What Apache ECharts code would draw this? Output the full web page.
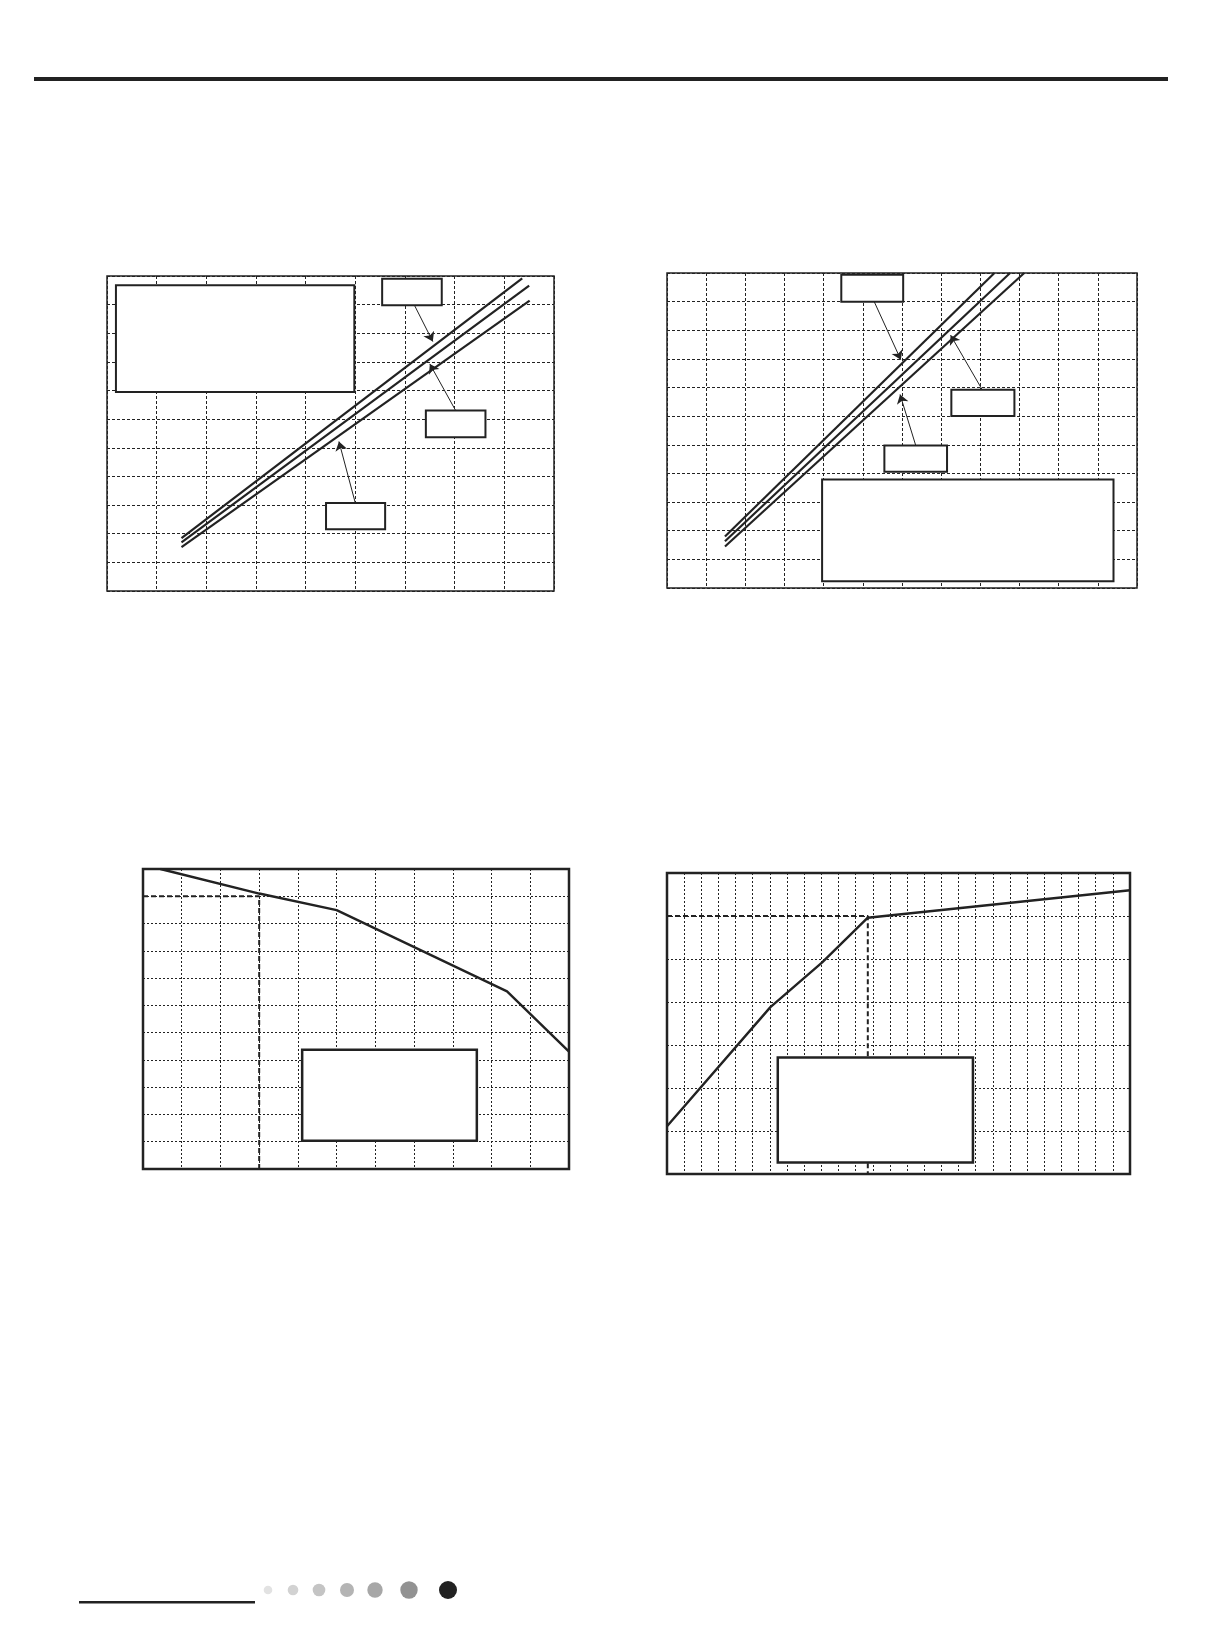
<!DOCTYPE html>
<html>
<head>
<meta charset="utf-8">
<script src="https://cdn.jsdelivr.net/npm/echarts@6/dist/echarts.min.js"></script>
<style>
  html, body { margin: 0; padding: 0; background: #fff; }
  #page { width: 1213px; height: 1644px; }
</style>
</head>
<body>
<div id="page"></div>
<script>
// ------------------------------
// data (grid units)
// ------------------------------
// top left chart: three straight lines
var c1Upper = [[1.5, 1.85], [8.36, 10.92]];
var c1Middle = [[1.5, 1.70], [8.5, 10.66]];
var c1Lower = [[1.5, 1.53], [8.51, 10.14]];
// top right chart: three straight lines
var c2Upper = [[1.48, 1.80], [8.36, 11]];
var c2Middle = [[1.48, 1.63], [8.76, 11]];
var c2Lower = [[1.48, 1.45], [9.12, 11]];
// bottom left chart: falling curve + guide
var c3Curve = [[0.45, 11], [3, 10.1], [5, 9.49], [9.4, 6.51], [11, 4.3]];
var c3Guide = [[0, 10], [3, 10], [3, 0]];
// bottom right chart: rising curve + guide
var c4Curve = [[0, 1.11], [6.03, 3.88], [9.05, 4.92], [11.71, 5.96], [27, 6.6]];
var c4Guide = [[0, 6], [11.71, 6], [11.71, 0]];

// axis extents (number of grid cells)
var xCells = [9, 12, 11, 27];
var yCells = [11, 11, 11, 7];

// empty annotation boxes [x0, y0, x1, y1]
var c1Boxes = [[0.18, 6.95, 4.98, 10.68], [5.54, 9.98, 6.74, 10.9], [6.42, 5.37, 7.62, 6.30], [4.41, 2.16, 5.60, 3.07]];
var c2Boxes = [[4.45, 10.0, 6.03, 10.94], [7.26, 6.01, 8.87, 6.92], [5.55, 4.06, 7.15, 4.98], [3.96, 0.24, 11.40, 3.79]];
var c3Boxes = [[4.11, 1.04, 8.62, 4.37]];
var c4Boxes = [[6.46, 0.265, 17.84, 2.71]];

// arrows from boxes to lines
var c1Arrows = [[[6.19, 9.98], [6.56, 8.71]], [[7.02, 6.30], [6.50, 7.93]], [[5.00, 3.07], [4.67, 5.22]]];
var c2Arrows = [[[5.29, 10.0], [5.97, 7.97]], [[8.05, 6.92], [7.24, 8.83]], [[6.35, 4.98], [5.95, 6.76]]];

var ink = '#222';

var myChart = echarts.init(document.getElementById('page'), null, { renderer: 'canvas' });

// grids laid out like the page
var grids = [
    { left: 107, top: 276, width: 447, height: 315, borderWidth: 1.5 },
    { left: 667, top: 273, width: 470, height: 315, borderWidth: 1.5 },
    { left: 143, top: 869, width: 426, height: 300, borderWidth: 2.5 },
    { left: 667, top: 873, width: 463, height: 301, borderWidth: 2.5 }
];
var gridDash = [[3, 2], [3, 2], [2, 2], [2, 2]];

function axis(i, max) {
    return {
        type: 'value', gridIndex: i, min: 0, max: max, interval: 1,
        axisLine: { show: false }, axisTick: { show: false }, axisLabel: { show: false },
        splitLine: { show: true, lineStyle: { color: ink, width: 1, type: gridDash[i] } }
    };
}

function lineSeries(i, data, width, dash) {
    return {
        type: 'line', xAxisIndex: i, yAxisIndex: i, data: data, symbol: 'none',
        clip: true, z: 3, silent: true,
        lineStyle: { color: ink, width: width, type: dash || 'solid' }
    };
}

function boxSeries(i, data, lw) {
    return {
        type: 'custom', xAxisIndex: i, yAxisIndex: i, data: data, z: 5, silent: true,
        encode: { x: [0, 2], y: [1, 3] },
        renderItem: function (params, api) {
            var p0 = api.coord([api.value(0), api.value(3)]);
            var p1 = api.coord([api.value(2), api.value(1)]);
            return {
                type: 'rect',
                shape: { x: p0[0], y: p0[1], width: p1[0] - p0[0], height: p1[1] - p0[1] },
                style: { fill: '#fff', stroke: ink, lineWidth: lw }
            };
        }
    };
}

function arrowSeries(i, arr) {
    return {
        type: 'lines', coordinateSystem: 'cartesian2d', xAxisIndex: i, yAxisIndex: i,
        z: 6, silent: true, symbol: ['none', 'arrow'], symbolSize: 9,
        lineStyle: { color: ink, width: 1, opacity: 1, curveness: 0 },
        data: arr.map(function (c) { return { coords: c }; })
    };
}

var option = {
    backgroundColor: '#fff',
    animation: false,
    grid: grids.map(function (g) {
        return { left: g.left, top: g.top, width: g.width, height: g.height,
                 show: true, borderColor: ink, borderWidth: g.borderWidth, backgroundColor: 'transparent' };
    }),
    xAxis: xCells.map(function (m, i) { return axis(i, m); }),
    yAxis: yCells.map(function (m, i) { return axis(i, m); }),
    series: [
        lineSeries(0, c1Upper, 2.2), lineSeries(0, c1Middle, 2.2), lineSeries(0, c1Lower, 2.2),
        lineSeries(1, c2Upper, 2.2), lineSeries(1, c2Middle, 2.2), lineSeries(1, c2Lower, 2.2),
        lineSeries(2, c3Guide, 2, [5, 3]), lineSeries(2, c3Curve, 2.4),
        lineSeries(3, c4Guide, 2, [5, 3]), lineSeries(3, c4Curve, 2.4),
        boxSeries(0, c1Boxes, 2), boxSeries(1, c2Boxes, 2),
        boxSeries(2, c3Boxes, 2.5), boxSeries(3, c4Boxes, 2.5),
        arrowSeries(0, c1Arrows), arrowSeries(1, c2Arrows)
    ],
    // page header rule and footer decoration
    graphic: [
        { type: 'rect', shape: { x: 34, y: 77, width: 1134, height: 4 }, style: { fill: ink } },
        { type: 'rect', shape: { x: 79, y: 1601, width: 176, height: 2.5 }, style: { fill: ink } },
        { type: 'circle', shape: { cx: 268, cy: 1590, r: 4.3 }, style: { fill: '#e2e2e2' } },
        { type: 'circle', shape: { cx: 293, cy: 1590, r: 5.3 }, style: { fill: '#d2d2d2' } },
        { type: 'circle', shape: { cx: 319, cy: 1590, r: 6.3 }, style: { fill: '#c4c4c4' } },
        { type: 'circle', shape: { cx: 347, cy: 1590, r: 7 }, style: { fill: '#b4b4b4' } },
        { type: 'circle', shape: { cx: 375, cy: 1590, r: 7.7 }, style: { fill: '#a7a7a7' } },
        { type: 'circle', shape: { cx: 409, cy: 1590, r: 8.7 }, style: { fill: '#929292' } },
        { type: 'circle', shape: { cx: 448, cy: 1590, r: 9 }, style: { fill: ink } }
    ]
};

myChart.setOption(option);
</script>
</body>
</html>
